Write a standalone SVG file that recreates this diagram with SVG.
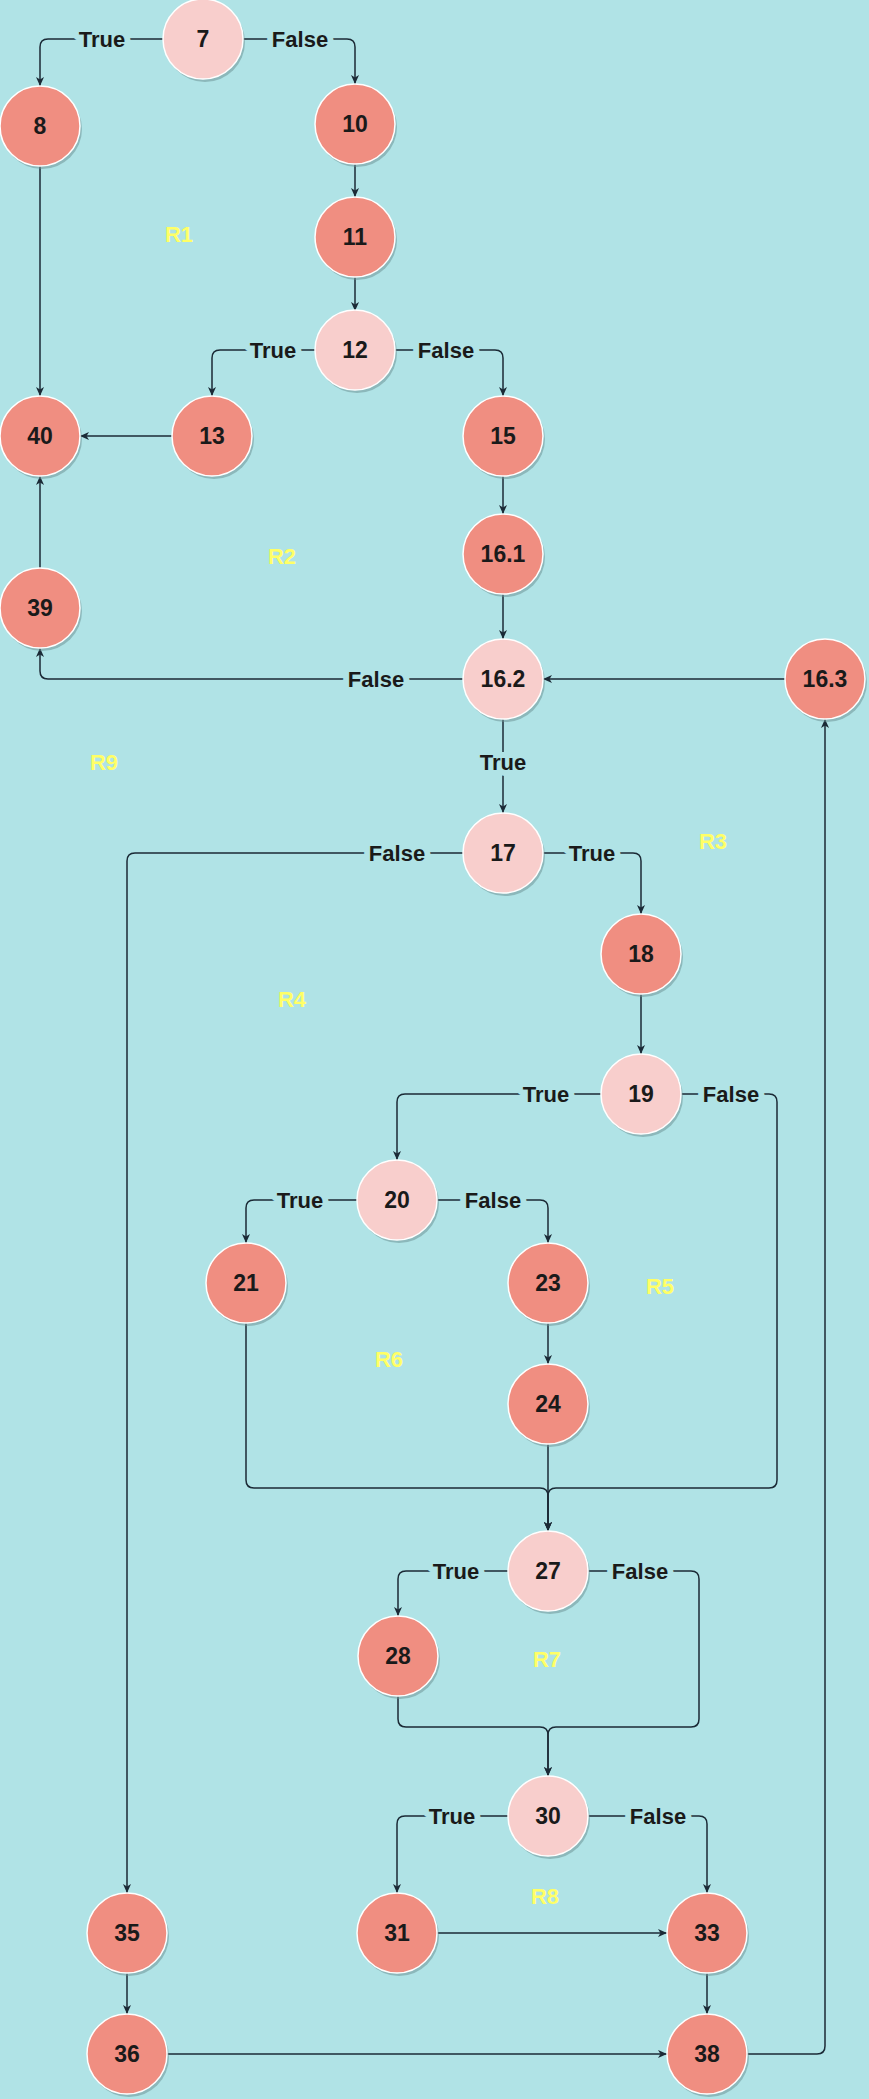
<svg xmlns="http://www.w3.org/2000/svg" width="869" height="2099" viewBox="0 0 869 2099">
<defs>
<marker id="arr" markerUnits="userSpaceOnUse" markerWidth="12" markerHeight="10" refX="9" refY="4" orient="auto">
<path d="M0,0 L9,4 L0,8 L2.5,4 z" fill="#1b2a36"/>
</marker>
<style>
.edge{fill:none;stroke:#1b2a36;stroke-width:1.5;marker-end:url(#arr)}
.shadow{fill:#6f9598;opacity:0.55}
.dec{fill:#F8CECC;stroke:#FFFFFF;stroke-width:1.5}
.act{fill:#F08E81;stroke:#FFFFFF;stroke-width:1.5}
.nt{font-family:"Liberation Sans",Arial,sans-serif;font-size:23px;font-weight:bold;fill:#1A1A1A;text-anchor:middle;dominant-baseline:central}
.lbl{font-family:"Liberation Sans",Arial,sans-serif;font-size:22px;font-weight:bold;fill:#1A1A1A;text-anchor:middle;dominant-baseline:central;stroke:#B0E3E6;stroke-width:12;paint-order:stroke;stroke-linejoin:round}
.reg{font-family:"Liberation Sans",Arial,sans-serif;font-size:22px;font-weight:bold;fill:#FFFF66;text-anchor:middle;dominant-baseline:central}
</style>
</defs>
<rect x="0" y="0" width="869" height="2099" fill="#B0E3E6"/>

<g id="connectors">
<path class="edge" d="M163,39 H48 Q40,39 40,47 V86"/>
<path class="edge" d="M243,39 H347 Q355,39 355,47 V84"/>
<path class="edge" d="M355,164 V197"/>
<path class="edge" d="M355,277 V311"/>
<path class="edge" d="M40,166 V396"/>
<path class="edge" d="M315,350 H220 Q212,350 212,358 V396"/>
<path class="edge" d="M395,350 H495 Q503,350 503,358 V396"/>
<path class="edge" d="M172,436 H80"/>
<path class="edge" d="M503,476 V514"/>
<path class="edge" d="M503,594 V639"/>
<path class="edge" d="M785,679 H543"/>
<path class="edge" d="M463,679 H48 Q40,679 40,671 V648"/>
<path class="edge" d="M40,568 V476"/>
<path class="edge" d="M503,719 V813"/>
<path class="edge" d="M463,853 H135 Q127,853 127,861 V1893"/>
<path class="edge" d="M543,853 H633 Q641,853 641,861 V914"/>
<path class="edge" d="M641,994 V1054"/>
<path class="edge" d="M601,1094 H405 Q397,1094 397,1102 V1160"/>
<path class="edge" d="M681,1094 H769 Q777,1094 777,1102 V1480 Q777,1488 769,1488 H556 Q548,1488 548,1496 V1531"/>
<path class="edge" d="M357,1200 H254 Q246,1200 246,1208 V1243"/>
<path class="edge" d="M437,1200 H540 Q548,1200 548,1208 V1243"/>
<path class="edge" d="M548,1323 V1364"/>
<path class="edge" d="M548,1444 V1531"/>
<path class="edge" d="M246,1323 V1480 Q246,1488 254,1488 H540 Q548,1488 548,1496 V1531"/>
<path class="edge" d="M508,1571 H406 Q398,1571 398,1579 V1616"/>
<path class="edge" d="M588,1571 H691 Q699,1571 699,1579 V1719 Q699,1727 691,1727 H556 Q548,1727 548,1735 V1776"/>
<path class="edge" d="M398,1696 V1719 Q398,1727 406,1727 H540 Q548,1727 548,1735 V1776"/>
<path class="edge" d="M508,1816 H405 Q397,1816 397,1824 V1893"/>
<path class="edge" d="M588,1816 H699 Q707,1816 707,1824 V1893"/>
<path class="edge" d="M437,1933 H667"/>
<path class="edge" d="M707,1973 V2014"/>
<path class="edge" d="M127,1973 V2014"/>
<path class="edge" d="M167,2054 H667"/>
<path class="edge" d="M747,2054 H817 Q825,2054 825,2046 V719"/>

<text class="lbl" x="102" y="39">True</text>
<text class="lbl" x="300" y="39">False</text>
<text class="lbl" x="273" y="350">True</text>
<text class="lbl" x="446" y="350">False</text>
<text class="lbl" x="376" y="679">False</text>
<text class="lbl" x="503" y="762">True</text>
<text class="lbl" x="397" y="853">False</text>
<text class="lbl" x="592" y="853">True</text>
<text class="lbl" x="546" y="1094">True</text>
<text class="lbl" x="731" y="1094">False</text>
<text class="lbl" x="300" y="1200">True</text>
<text class="lbl" x="493" y="1200">False</text>
<text class="lbl" x="456" y="1571">True</text>
<text class="lbl" x="640" y="1571">False</text>
<text class="lbl" x="452" y="1816">True</text>
<text class="lbl" x="658" y="1816">False</text>
</g>

<g id="n7"><circle class="shadow" cx="205" cy="42" r="40"/><circle class="dec" cx="203" cy="39" r="40"/><text class="nt" x="203" y="39">7</text></g>
<g id="n8"><circle class="shadow" cx="42" cy="129" r="40"/><circle class="act" cx="40" cy="126" r="40"/><text class="nt" x="40" y="126">8</text></g>
<g id="n10"><circle class="shadow" cx="357" cy="127" r="40"/><circle class="act" cx="355" cy="124" r="40"/><text class="nt" x="355" y="124">10</text></g>
<g id="n11"><circle class="shadow" cx="357" cy="240" r="40"/><circle class="act" cx="355" cy="237" r="40"/><text class="nt" x="355" y="237">11</text></g>
<g id="n12"><circle class="shadow" cx="357" cy="353" r="40"/><circle class="dec" cx="355" cy="350" r="40"/><text class="nt" x="355" y="350">12</text></g>
<g id="n13"><circle class="shadow" cx="214" cy="439" r="40"/><circle class="act" cx="212" cy="436" r="40"/><text class="nt" x="212" y="436">13</text></g>
<g id="n40"><circle class="shadow" cx="42" cy="439" r="40"/><circle class="act" cx="40" cy="436" r="40"/><text class="nt" x="40" y="436">40</text></g>
<g id="n15"><circle class="shadow" cx="505" cy="439" r="40"/><circle class="act" cx="503" cy="436" r="40"/><text class="nt" x="503" y="436">15</text></g>
<g id="n16_1"><circle class="shadow" cx="505" cy="557" r="40"/><circle class="act" cx="503" cy="554" r="40"/><text class="nt" x="503" y="554">16.1</text></g>
<g id="n39"><circle class="shadow" cx="42" cy="611" r="40"/><circle class="act" cx="40" cy="608" r="40"/><text class="nt" x="40" y="608">39</text></g>
<g id="n16_2"><circle class="shadow" cx="505" cy="682" r="40"/><circle class="dec" cx="503" cy="679" r="40"/><text class="nt" x="503" y="679">16.2</text></g>
<g id="n16_3"><circle class="shadow" cx="827" cy="682" r="40"/><circle class="act" cx="825" cy="679" r="40"/><text class="nt" x="825" y="679">16.3</text></g>
<g id="n17"><circle class="shadow" cx="505" cy="856" r="40"/><circle class="dec" cx="503" cy="853" r="40"/><text class="nt" x="503" y="853">17</text></g>
<g id="n18"><circle class="shadow" cx="643" cy="957" r="40"/><circle class="act" cx="641" cy="954" r="40"/><text class="nt" x="641" y="954">18</text></g>
<g id="n19"><circle class="shadow" cx="643" cy="1097" r="40"/><circle class="dec" cx="641" cy="1094" r="40"/><text class="nt" x="641" y="1094">19</text></g>
<g id="n20"><circle class="shadow" cx="399" cy="1203" r="40"/><circle class="dec" cx="397" cy="1200" r="40"/><text class="nt" x="397" y="1200">20</text></g>
<g id="n21"><circle class="shadow" cx="248" cy="1286" r="40"/><circle class="act" cx="246" cy="1283" r="40"/><text class="nt" x="246" y="1283">21</text></g>
<g id="n23"><circle class="shadow" cx="550" cy="1286" r="40"/><circle class="act" cx="548" cy="1283" r="40"/><text class="nt" x="548" y="1283">23</text></g>
<g id="n24"><circle class="shadow" cx="550" cy="1407" r="40"/><circle class="act" cx="548" cy="1404" r="40"/><text class="nt" x="548" y="1404">24</text></g>
<g id="n27"><circle class="shadow" cx="550" cy="1574" r="40"/><circle class="dec" cx="548" cy="1571" r="40"/><text class="nt" x="548" y="1571">27</text></g>
<g id="n28"><circle class="shadow" cx="400" cy="1659" r="40"/><circle class="act" cx="398" cy="1656" r="40"/><text class="nt" x="398" y="1656">28</text></g>
<g id="n30"><circle class="shadow" cx="550" cy="1819" r="40"/><circle class="dec" cx="548" cy="1816" r="40"/><text class="nt" x="548" y="1816">30</text></g>
<g id="n31"><circle class="shadow" cx="399" cy="1936" r="40"/><circle class="act" cx="397" cy="1933" r="40"/><text class="nt" x="397" y="1933">31</text></g>
<g id="n33"><circle class="shadow" cx="709" cy="1936" r="40"/><circle class="act" cx="707" cy="1933" r="40"/><text class="nt" x="707" y="1933">33</text></g>
<g id="n35"><circle class="shadow" cx="129" cy="1936" r="40"/><circle class="act" cx="127" cy="1933" r="40"/><text class="nt" x="127" y="1933">35</text></g>
<g id="n36"><circle class="shadow" cx="129" cy="2057" r="40"/><circle class="act" cx="127" cy="2054" r="40"/><text class="nt" x="127" y="2054">36</text></g>
<g id="n38"><circle class="shadow" cx="709" cy="2057" r="40"/><circle class="act" cx="707" cy="2054" r="40"/><text class="nt" x="707" y="2054">38</text></g>

<g id="regions">
<text class="reg" x="179" y="234">R1</text>
<text class="reg" x="282" y="556">R2</text>
<text class="reg" x="104" y="762">R9</text>
<text class="reg" x="713" y="841">R3</text>
<text class="reg" x="292" y="999">R4</text>
<text class="reg" x="660" y="1286">R5</text>
<text class="reg" x="389" y="1359">R6</text>
<text class="reg" x="547" y="1659">R7</text>
<text class="reg" x="545" y="1896">R8</text>
</g>
</svg>
